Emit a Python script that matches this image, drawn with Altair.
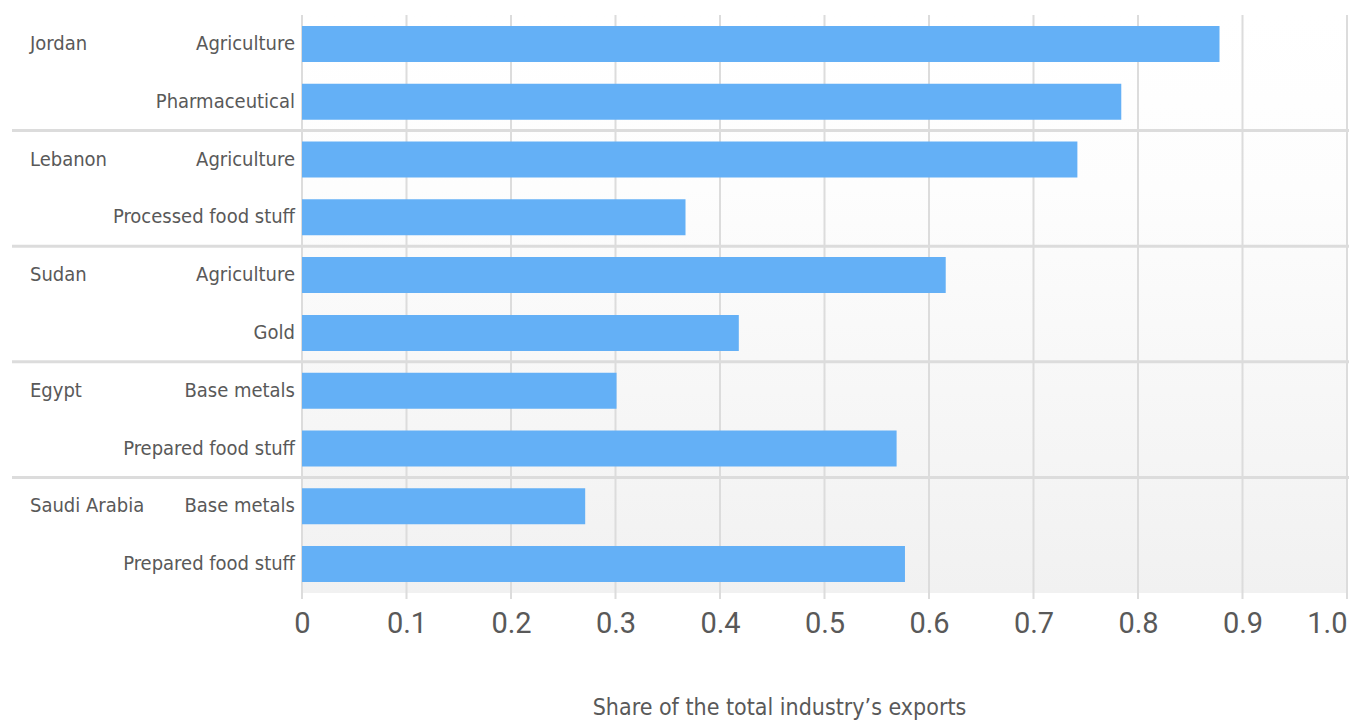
import altair as alt
import pandas as pd

countries = ["Jordan", "Jordan", "Lebanon", "Lebanon", "Sudan", "Sudan",
             "Egypt", "Egypt", "Saudi Arabia", "Saudi Arabia"]
categories = ["Agriculture", "Pharmaceutical", "Agriculture", "Processed food stuff",
              "Agriculture", "Gold", "Base metals", "Prepared food stuff",
              "Base metals", "Prepared food stuff"]
shares = [0.878, 0.784, 0.742, 0.367, 0.616, 0.418, 0.301, 0.569, 0.271, 0.577]
ticks = [0, 0.1, 0.2, 0.3, 0.4, 0.5, 0.6, 0.7, 0.8, 0.9, 1.0]

rows = []
for i, (c, k, v) in enumerate(zip(countries, categories, shares)):
    rows.append({"id": f"{i:02d}", "country": c, "category": k, "share": v,
                 "first": i == 0 or countries[i - 1] != c})
df = pd.DataFrame(rows)
order = list(df["id"])

FONT = "DejaVu Sans Condensed"
TXT = "#595959"
GRID = "#dcdcdc"
W, H = 1045, 578

xscale = alt.Scale(domain=[0, 1], nice=False)
yscale = alt.Scale(domain=order, paddingInner=0, paddingOuter=0)
yenc = alt.Y("id:N", scale=yscale, axis=None)

xaxis = alt.Axis(values=ticks,
                 labelExpr="datum.value == 0 ? '0' : format(datum.value, '.1f')",
                 labelAlign={"expr": "datum.value == 1 ? 'right' : 'center'"},
                 title="Share of the total industry\u2019s exports",
                 titleFont=FONT, titleFontSize=23, titleFontWeight="normal",
                 titleColor=TXT, titlePadding=58, titleX=477,
                 labelFont="Roboto", labelFontSize=29, labelColor=TXT,
                 labelPadding=16, domain=False, ticks=False, grid=False)

base = alt.Chart(df)

bg = alt.Chart(pd.DataFrame({"a": [0]})).mark_rect(
    fill=alt.Gradient(gradient="linear", x1=0, x2=0, y1=0, y2=1,
                      stops=[alt.GradientStop(offset=0, color="#ffffff"),
                             alt.GradientStop(offset=0.3, color="#fdfdfd"),
                             alt.GradientStop(offset=1, color="#f1f1f1")])
).encode(x=alt.value(0), x2=alt.value(W), y=alt.value(0), y2=alt.value(H))

grid = alt.Chart(pd.DataFrame({"t": ticks})).mark_rule(
    color=GRID, strokeWidth=2).encode(
    x=alt.X("t:Q", scale=xscale, axis=xaxis),
    y=alt.value(0), y2=alt.value(H + 6))

bars = base.mark_bar(color="#64b0f6", height=36).encode(
    x=alt.X("share:Q", scale=xscale, axis=xaxis),
    y=yenc,
)

cat_labels = base.mark_text(align="right", baseline="middle", font=FONT,
                            fontSize=20, color=TXT, dx=-7).encode(
    x=alt.value(0), y=yenc, text="category:N")

country_labels = base.transform_filter("datum.first").mark_text(
    align="left", baseline="middle", font=FONT, fontSize=20, color=TXT).encode(
    x=alt.value(-272), y=yenc, text="country:N")

seps = base.transform_filter("datum.first && datum.id != '00'").mark_rule(
    color=GRID, strokeWidth=3).encode(
    x=alt.value(-290), x2=alt.value(W + 2),
    y=alt.Y("id:N", scale=yscale, axis=None, bandPosition=0))

chart = alt.layer(bg, grid, bars, seps, cat_labels, country_labels).properties(
    width=W, height=H,
    autosize=alt.AutoSizeParams(type="none"),
    padding={"left": 302, "top": 15, "right": 2, "bottom": 127},
    background="#ffffff",
).configure_view(stroke=None)

chart.save("out.html", embed_options={"renderer": "svg", "actions": False})
